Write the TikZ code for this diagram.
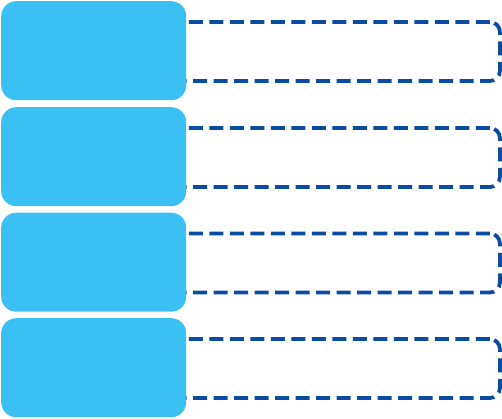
\documentclass[tikz,border=0pt]{standalone}
\definecolor{boxblue}{HTML}{3BC0F3}
\definecolor{dashblue}{HTML}{0A4CA2}
\begin{document}
\begin{tikzpicture}[x=1pt,y=-1pt,
  bluebox/.style={fill=boxblue, draw=none, rounded corners=15pt, minimum width=185pt, minimum height=99pt, inner sep=0pt, anchor=north west},
  dashbox/.style={draw=dashblue, line width=3.8pt, rounded corners=10pt, dash pattern=on 14pt off 6.5pt, minimum width=328pt, minimum height=59pt, inner sep=0pt, anchor=west}]
\useasboundingbox (0,0) rectangle (502,418);
\foreach \i/\t in {1/1,2/107,3/212.5,4/318}{
  \node[dashbox] (d\i) at (170,\t+50.5) {};
  \node[bluebox] (b\i) at (1,\t) {};
}
\end{tikzpicture}
\end{document}
